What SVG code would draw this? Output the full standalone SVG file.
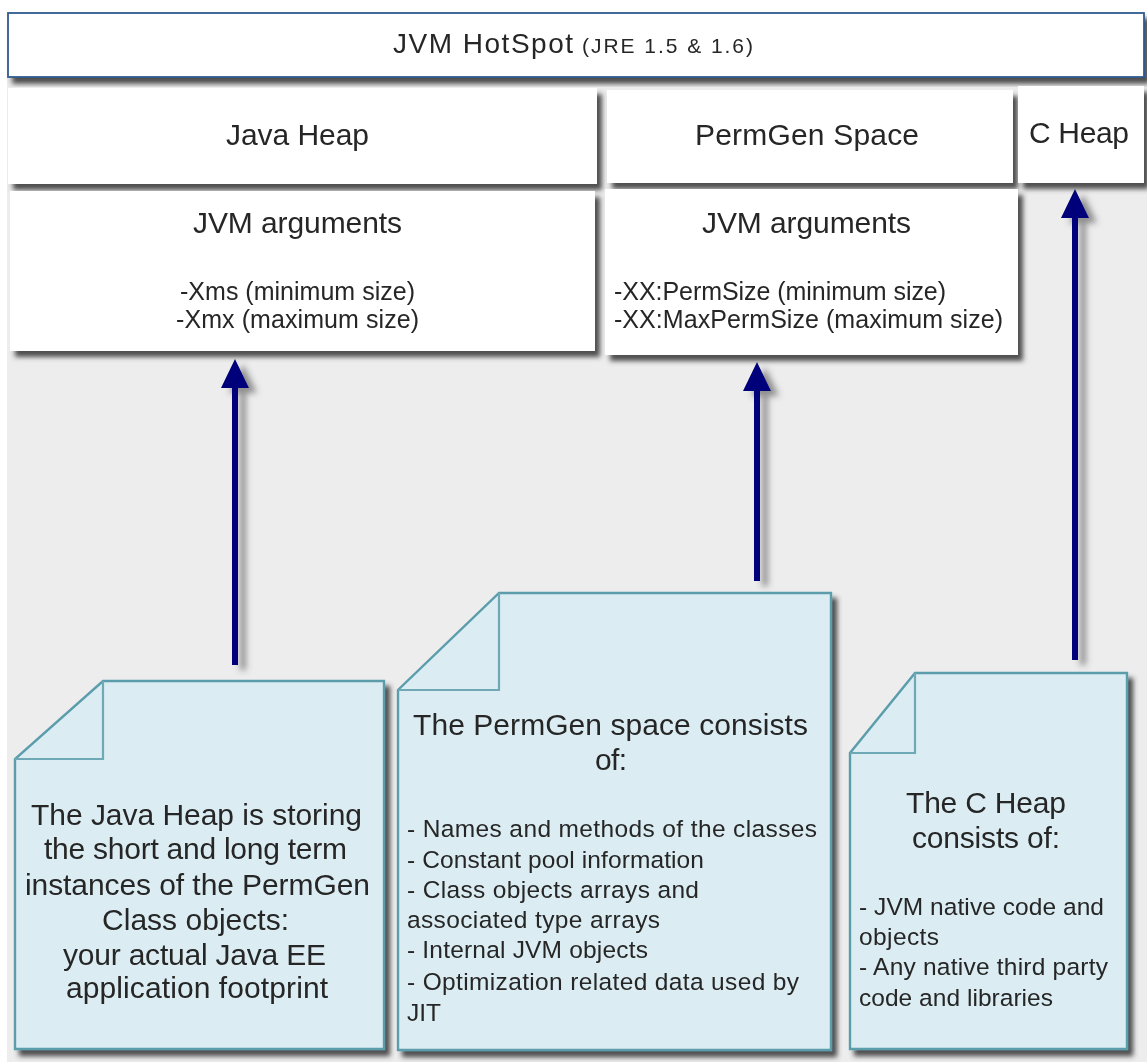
<svg xmlns="http://www.w3.org/2000/svg" width="1147" height="1062" viewBox="0 0 1147 1062">
<defs>
<filter id="sh" x="-10%" y="-10%" width="120%" height="125%"><feDropShadow dx="5" dy="6" stdDeviation="2.8" flood-color="#303030" flood-opacity="0.85"/></filter>
<filter id="ash" x="-100%" y="-5%" width="400%" height="115%"><feDropShadow dx="8" dy="5" stdDeviation="3" flood-color="#404040" flood-opacity="0.55"/></filter>
<filter id="soft" x="-5%" y="-20%" width="110%" height="140%"><feGaussianBlur stdDeviation="0.5"/></filter>
</defs>
<style>
text{font-family:"Liberation Sans",Arial,sans-serif;fill:#262626;filter:url(#soft)}
.box{fill:#fff;filter:url(#sh)}
.note{fill:#dbedf3;stroke:#5b9dac;stroke-width:2.4;filter:url(#sh)}
.fold{fill:none;stroke:#6fa9b6;stroke-width:2.2}
.h{font-size:30px}.a{font-size:25px}.n{font-size:30px}.l{font-size:24.5px}
.arrow{filter:url(#ash)}
.arrow path{fill:#00007a}
</style>
<rect x="7" y="77" width="1140" height="985" fill="#ededed"/>
<g id="connectors">
<g class="arrow"><path d="M232 665V388H221L235 359L249 388H238V665Z"/></g>
<g class="arrow"><path d="M754 581V391H743L757 362L771 391H760V581Z"/></g>
<g class="arrow"><path d="M1072 660V218H1061L1075 189L1089 218H1078V660Z"/></g>
</g>
<g id="jvm-hotspot">
<rect x="8" y="13" width="1136" height="64" fill="#fff" stroke="#2f5b8f" stroke-width="1.8" filter="url(#sh)"/>
<text x="393" y="53" font-size="28" textLength="180">JVM HotSpot</text>
<text x="582" y="53" font-size="21" textLength="171">(JRE 1.5 &amp; 1.6)</text>
</g>
<g id="java-heap">
<rect class="box" x="8" y="88" width="589" height="96"/>
<text class="h" x="226" y="145" textLength="143">Java Heap</text>
</g>
<g id="java-heap-args">
<rect class="box" x="10" y="191" width="585" height="160"/>
<text class="h" x="193" y="233" textLength="209">JVM arguments</text>
<text class="a" x="180" y="300" textLength="235">-Xms (minimum size)</text>
<text class="a" x="176" y="328" textLength="243">-Xmx (maximum size)</text>
</g>
<g id="permgen-space">
<rect class="box" x="607" y="90" width="406" height="93"/>
<text class="h" x="695" y="145" textLength="224">PermGen Space</text>
</g>
<g id="permgen-args">
<rect class="box" x="605" y="189" width="413" height="166"/>
<text class="h" x="702" y="233" textLength="209">JVM arguments</text>
<text class="a" x="614" y="300" textLength="332">-XX:PermSize (minimum size)</text>
<text class="a" x="614" y="328" textLength="389">-XX:MaxPermSize (maximum size)</text>
</g>
<g id="c-heap">
<rect class="box" x="1018" y="86" width="126" height="97"/>
<text class="h" x="1029" y="143" textLength="100">C Heap</text>
</g>
<g id="note-java-heap">
<path class="note" d="M103 681H384V1049H15V759Z"/>
<path class="fold" d="M103 681V759H15"/>
<text class="n" x="31" y="825" textLength="331">The Java Heap is storing</text>
<text class="n" x="44" y="859" textLength="303">the short and long term</text>
<text class="n" x="25" y="895" textLength="345">instances of the PermGen</text>
<text class="n" x="102" y="930" textLength="187">Class objects:</text>
<text class="n" x="63" y="965" textLength="263">your actual Java EE</text>
<text class="n" x="66" y="998" textLength="262">application footprint</text>
</g>
<g id="note-permgen">
<path class="note" d="M499 593H831V1050H398V690Z"/>
<path class="fold" d="M499 593V690H398"/>
<text class="n" x="413" y="735" textLength="395">The PermGen space consists</text>
<text class="n" x="595" y="770" textLength="32">of:</text>
<text class="l" x="407" y="837" textLength="410">- Names and methods of the classes</text>
<text class="l" x="407" y="868" textLength="297">- Constant pool information</text>
<text class="l" x="407" y="898" textLength="292">- Class objects arrays and</text>
<text class="l" x="407" y="928" textLength="253">associated type arrays</text>
<text class="l" x="407" y="958" textLength="241">- Internal JVM objects</text>
<text class="l" x="407" y="990" textLength="392">- Optimization related data used by</text>
<text class="l" x="407" y="1021">JIT</text>
</g>
<g id="note-c-heap">
<path class="note" d="M915 673H1127V1049H850V753Z"/>
<path class="fold" d="M915 673V753H850"/>
<text class="n" x="906" y="813" textLength="160">The C Heap</text>
<text class="n" x="912" y="848" textLength="148">consists of:</text>
<text class="l" x="859" y="915" textLength="245">- JVM native code and</text>
<text class="l" x="859" y="945" textLength="80">objects</text>
<text class="l" x="859" y="975" textLength="249">- Any native third party</text>
<text class="l" x="859" y="1006" textLength="194">code and libraries</text>
</g>
</svg>
